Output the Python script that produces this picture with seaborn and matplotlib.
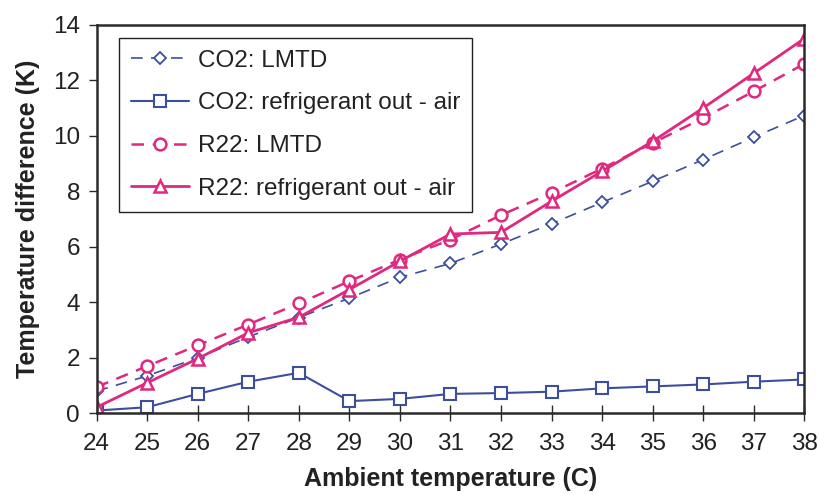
import matplotlib
matplotlib.use("Agg")
import matplotlib.pyplot as plt
import seaborn as sns
import pandas as pd

ambient = [24, 25, 26, 27, 28, 29, 30, 31, 32, 33, 34, 35, 36, 37, 38]
co2_lmtd = [0.8, 1.35, 2.0, 2.75, 3.45, 4.15, 4.9, 5.4, 6.1, 6.83, 7.6, 8.36, 9.14, 9.95, 10.73]
co2_out = [0.1, 0.22, 0.7, 1.14, 1.46, 0.44, 0.52, 0.7, 0.73, 0.78, 0.9, 0.97, 1.04, 1.14, 1.22]
r22_lmtd = [0.95, 1.7, 2.45, 3.2, 3.96, 4.76, 5.54, 6.26, 7.14, 7.94, 8.82, 9.74, 10.64, 11.6, 12.59]
r22_out = [0.22, 1.1, 1.97, 2.9, 3.46, 4.46, 5.48, 6.46, 6.52, 7.64, 8.72, 9.8, 11.0, 12.25, 13.5]

labels = ["CO2: LMTD", "CO2: refrigerant out - air", "R22: LMTD", "R22: refrigerant out - air"]

sns.set_style("ticks")
plt.rcParams["font.family"] = ["Liberation Sans", "DejaVu Sans"]

BLUE = "#3d4f9c"
MAG = "#e0287f"

fig = plt.figure(figsize=(8.19, 4.95), dpi=100)
ax = fig.add_axes([0.118, 0.165, 0.864, 0.785])

styles = [
    dict(color=BLUE, marker="D", ms=6.3, lw=1.2, dashes=(7, 5), mew=1.3),
    dict(color=BLUE, marker="s", ms=8.5, lw=1.5, dashes=None, mew=1.5),
    dict(color=MAG, marker="o", ms=8.5, lw=1.8, dashes=(5, 3.5), mew=1.8),
    dict(color=MAG, marker="^", ms=9, lw=2.0, dashes=None, mew=1.8),
]
series = [co2_lmtd, co2_out, r22_lmtd, r22_out]

for vals, lab, st in zip(series, labels, styles):
    df = pd.DataFrame({"x": ambient, "y": vals})
    kw = dict(color=st["color"], marker=st["marker"], markersize=st["ms"],
              linewidth=st["lw"], markerfacecolor="white",
              markeredgecolor=st["color"], markeredgewidth=st["mew"], label=lab)
    sns.lineplot(data=df, x="x", y="y", ax=ax, **kw)
    l = ax.lines[-1]
    if st["dashes"] is not None:
        l.set_dashes(st["dashes"])

ax.set_xlim(24, 38)
ax.set_ylim(0, 14)
ax.set_xticks(ambient)
ax.set_xticklabels([str(v) for v in ambient])
ax.set_yticks(range(0, 15, 2))

for s in ax.spines.values():
    s.set_visible(True)
    s.set_color("#2a2a2a")
    s.set_linewidth(1.8)

ax.tick_params(axis="x", direction="inout", length=12, width=1.0, colors="#2a2a2a",
               labelsize=17.5, pad=8, labelcolor="#222222")
ax.tick_params(axis="y", direction="out", length=6, width=1.0, colors="#2a2a2a",
               labelsize=17.5, pad=6, labelcolor="#222222")

ax.set_xlabel("Ambient temperature (C)", fontsize=18, fontweight="bold", color="#222222", labelpad=9)
ax.set_ylabel("Temperature difference (K)", fontsize=18, fontweight="bold", color="#222222", labelpad=9)

leg = ax.legend(loc="upper left", bbox_to_anchor=(0.031, 0.967), borderaxespad=0,
                fontsize=17.5, frameon=True, fancybox=False, framealpha=1,
                edgecolor="#222222", handlelength=2.4, labelspacing=0.85,
                borderpad=0.5, handletextpad=0.35)
leg.get_frame().set_linewidth(1.0)
for t in leg.get_texts():
    t.set_color("#222222")

fig.savefig("out.png", dpi=100)
